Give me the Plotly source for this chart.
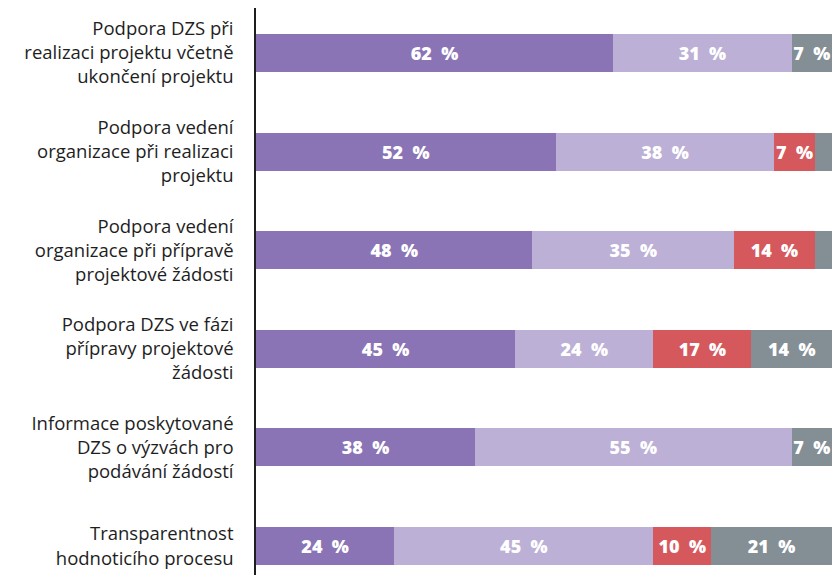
import plotly.graph_objects as go

categories = [
    "Podpora DZS při<br>realizaci projektu včetně<br>ukončení projektu",
    "Podpora vedení<br>organizace při realizaci<br>projektu",
    "Podpora vedení<br>organizace při přípravě<br>projektové žádosti",
    "Podpora DZS ve fázi<br>přípravy projektové<br>žádosti",
    "Informace poskytované<br>DZS o výzvách pro<br>podávání žádostí",
    "Transparentnost<br>hodnoticího procesu",
]
series_names = ["A", "B", "C", "D"]
s1 = [62, 52, 48, 45, 38, 24]
s2 = [31, 38, 35, 24, 55, 45]
s3 = [0, 7, 14, 17, 0, 10]
s4 = [7, 3, 3, 14, 7, 21]
colors = ["#8a74b6", "#bcb0d6", "#d5585d", "#838e95"]

fig = go.Figure()
for name, vals, col in zip(series_names, [s1, s2, s3, s4], colors):
    texts = [f"{v}\u00a0\u00a0%" if v >= 5 else "" for v in vals]
    fig.add_trace(go.Bar(
        y=categories, x=vals, orientation="h", name=name,
        marker=dict(color=col, line=dict(width=0)),
        text=texts, textposition="inside", insidetextanchor="middle",
        textfont=dict(color="white", size=18, family="Open Sans", weight=800),
        hoverinfo="skip",
    ))

fig.update_layout(
    barmode="stack", bargap=0.615,
    width=832, height=575,
    margin=dict(l=256, r=0, t=8, b=0),
    plot_bgcolor="white", paper_bgcolor="white",
    showlegend=False,
    uniformtext=dict(minsize=18, mode="show"),
    font=dict(family="Open Sans", size=18, color="#1e1e1e"),
)
fig.update_xaxes(range=[0, 100], visible=False, fixedrange=True)
fig.update_yaxes(
    type="category", range=[5.294, -0.456],
    showline=True, linecolor="#1e1e1e", linewidth=1.5,
    showgrid=False, ticks="", ticklabelstandoff=17,
    tickfont=dict(family="Open Sans", size=18.5, color="#1e1e1e"),
)

fig.write_html(
    "out.html",
    config={"displayModeBar": False},
    post_script="document.body.style.margin='0px';document.body.style.overflow='hidden';",
)
